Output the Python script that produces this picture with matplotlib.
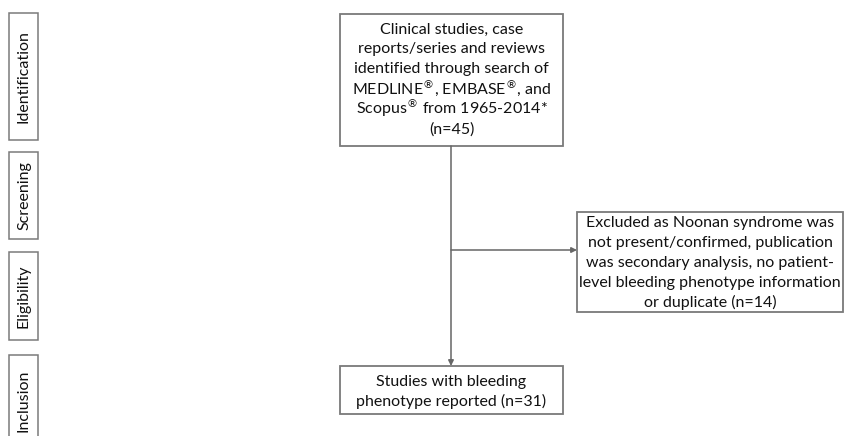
import matplotlib
matplotlib.use("Agg")
import matplotlib.pyplot as plt
from matplotlib.patches import Rectangle

# Stage labels on the left
stages = ["Identification", "Screening", "Eligibility", "Inclusion"]

# Flow box texts and counts
reg = r"$^{\circledR}$"
search_text = ("Clinical studies, case\nreports/series and reviews\n"
               "identified through search of\n"
               f"MEDLINE{reg}, EMBASE{reg}, and\n"
               f"Scopus{reg} from 1965-2014*")
n_identified = 45
excluded_text = ("Excluded as Noonan syndrome was\nnot present/confirmed, publication\n"
                 "was secondary analysis, no patient-\nlevel bleeding phenotype information\n"
                 "or duplicate")
n_excluded = 14
included_text = "Studies with bleeding\nphenotype reported"
n_included = 31

plt.rcParams['font.family'] = ['Lato', 'DejaVu Sans']
plt.rcParams['mathtext.fontset'] = 'dejavusans'

W, H = 845, 436
fig = plt.figure(figsize=(W / 100, H / 100), dpi=100)
ax = fig.add_axes([0, 0, 1, 1])
ax.set_xlim(0, W)
ax.set_ylim(H, 0)
ax.axis('off')

edge = '#7a7a7a'
txt = '#111111'
fs = 11.5
step = 20  # px between text lines


def box(x0, y0, x1, y1, lw=1.3):
    ax.add_patch(Rectangle((x0, y0), x1 - x0, y1 - y0, facecolor='white',
                           edgecolor=edge, linewidth=lw, zorder=2))


def lines(x, yc, s):
    rows = s.split('\n')
    top = yc - step * (len(rows) - 1) / 2
    for i, row in enumerate(rows):
        ax.text(x, top + i * step + 4.5, row, ha='center', va='baseline',
                fontsize=fs, color=txt, zorder=3)


# stage boxes (vertical labels)
stage_boxes = [(13, 140), (152, 239), (252, 340), (355, 445)]
for label, (y0, y1) in zip(stages, stage_boxes):
    box(9, y0, 38, y1, lw=1.1)
    ax.text(24, (y0 + min(y1, 440)) / 2 + (3 if y1 > 436 else 0), label,
            rotation=90, ha='center', va='center',
            fontsize=fs, color=txt, zorder=3)

# main boxes
box(340, 14, 563, 146)
lines(451.5, 79, f"{search_text}\n(n={n_identified})")

box(577, 212, 843, 312)
lines(710, 262, f"{excluded_text} (n={n_excluded})")

box(340, 366, 563, 414)
lines(451.5, 391, f"{included_text} (n={n_included})")

# arrows
ax.annotate('', xy=(451, 366), xytext=(451, 146),
            arrowprops=dict(arrowstyle='-|>', color='#666666', lw=1.1,
                            mutation_scale=8, shrinkA=0, shrinkB=0))
ax.annotate('', xy=(577, 250), xytext=(451, 250),
            arrowprops=dict(arrowstyle='-|>', color='#666666', lw=1.1,
                            mutation_scale=8, shrinkA=0, shrinkB=0))

fig.savefig('out.png', dpi=100, facecolor='white')
